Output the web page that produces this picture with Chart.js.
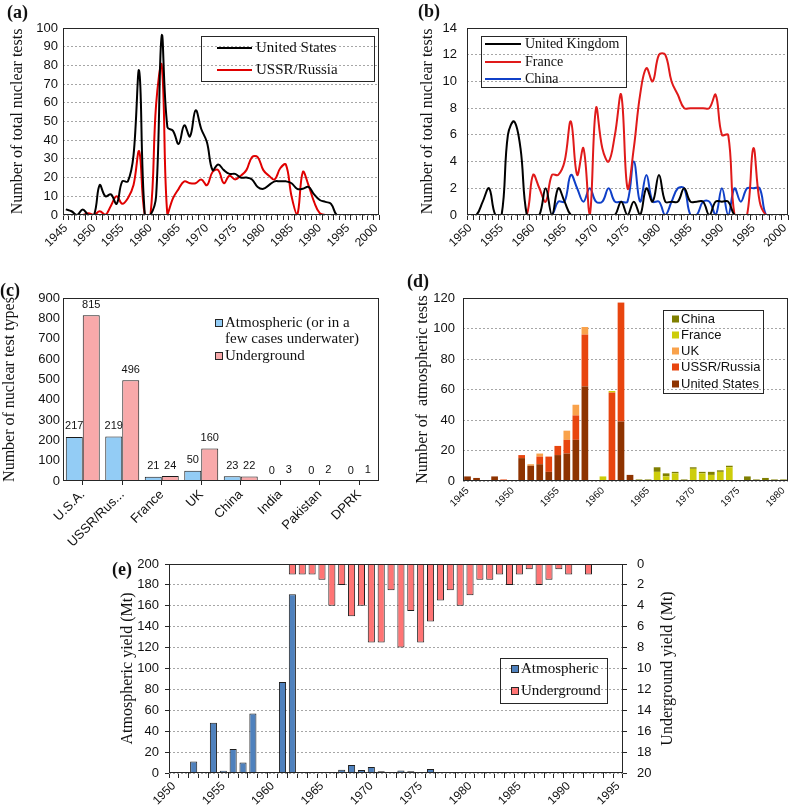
<!DOCTYPE html>
<html><head><meta charset="utf-8">
<script src="https://cdn.jsdelivr.net/npm/chart.js@4.4.1/dist/chart.umd.min.js"></script>
<style>
html,body{margin:0;padding:0;background:#fff;}
body{width:791px;height:809px;position:relative;overflow:hidden;}
canvas{position:absolute;}
</style></head><body>
<canvas id="cE" width="791" height="309" style="left:0;top:500px;z-index:1"></canvas>
<canvas id="cA" width="395" height="260" style="left:0;top:0;z-index:2"></canvas>
<canvas id="cB" width="396" height="260" style="left:395px;top:0;z-index:2"></canvas>
<canvas id="cC" width="395" height="300" style="left:0;top:260px;z-index:3"></canvas>
<canvas id="cD" width="396" height="262" style="left:395px;top:260px;z-index:3"></canvas>
<script>
// ---------------- DATA ----------------
// (a) total tests per year, US and USSR/Russia
const yearsA = [1945,1946,1947,1948,1949,1950,1951,1952,1953,1954,1955,1956,1957,1958,1959,1960,1961,1962,1963,1964,1965,1966,1967,1968,1969,1970,1971,1972,1973,1974,1975,1976,1977,1978,1979,1980,1981,1982,1983,1984,1985,1986,1987,1988,1989,1990,1991,1992,1993,1994,1995,1996,1997,1998,1999,2000];
const usTotal = [3,2,0,3,0,0,16,10,11,6, 18,18,32,77,0,0,10,96,47,45, 38,48,42,56,46,39,24,27,24,22, 22,20,20,19,15,14,16,18,18,18, 17,14,14,15,11,8,7,6,0,0, 0,0,0,0,0,0];
const ussrTotal = [0,0,0,0,1,0,2,0,5,10, 6,9,16,34,0,0,59,80,0,9, 14,18,17,17,19,16,23,24,17,21, 19,21,24,31,31,24,21,19,25,27, 10,0,23,16,7,1,0,0,0,0, 0,0,0,0,0,0];

// (b) total tests per year, UK, France, China
const yearsB = [1950,1951,1952,1953,1954,1955,1956,1957,1958,1959,1960,1961,1962,1963,1964,1965,1966,1967,1968,1969,1970,1971,1972,1973,1974,1975,1976,1977,1978,1979,1980,1981,1982,1983,1984,1985,1986,1987,1988,1989,1990,1991,1992,1993,1994,1995,1996,1997,1998,1999,2000];
const ukTotal = [0,0,1,2,0,0,6,7,5,0, 0,0,2,0,2,1,0,0,0,0, 0,0,0,0,1,0,1,0,2,1, 3,1,1,1,2,1,1,1,0,1, 1,1,0,0,0,0,0,0,0,0, 0];
const franceTotal = [0,0,0,0,0,0,0,0,0,0, 3,2,1,3,3,4,7,3,5,0, 8,5,4,6,9,2,5,9,11,10, 12,12,10,9,8,8,8,8,8,9, 6,6,0,0,0,5,1,0,0,0, 0];
const chinaTotal = [0,0,0,0,0,0,0,0,0,0, 0,0,0,0,1,1,3,2,1,2, 1,1,2,1,1,1,4,1,3,1, 1,0,1,2,2,0,0,1,1,0, 2,0,2,1,2,2,2,0,0,0, 0];

// (c) test types per country
const countriesC = ['U.S.A.','USSR/Rus...','France','UK','China','India','Pakistan','DPRK'];
const atmosphericC = [217,219,21,50,23,0,0,0];
const undergroundC = [815,496,24,160,22,3,2,1];

// (d) atmospheric tests per year (stacked)
const yearsD = [1945,1946,1947,1948,1949,1950,1951,1952,1953,1954,1955,1956,1957,1958,1959,1960,1961,1962,1963,1964,1965,1966,1967,1968,1969,1970,1971,1972,1973,1974,1975,1976,1977,1978,1979,1980];
const usAtm     = [3,2,0,3,0,0,15,10,11,6,17,18,27,62,0,0,0,39,4,0,0,0,0,0,0,0,0,0,0,0,0,0,0,0,0,0];
const ussrAtm   = [0,0,0,0,1,0,2,0,5,10,6,9,16,34,0,0,58,78,0,0,0,0,0,0,0,0,0,0,0,0,0,0,0,0,0,0];
const ukAtm     = [0,0,0,0,0,0,0,1,2,0,0,6,7,5,0,0,0,0,0,0,0,0,0,0,0,0,0,0,0,0,0,0,0,0,0,0];
const franceAtm = [0,0,0,0,0,0,0,0,0,0,0,0,0,0,0,3,1,0,0,0,0,6,3,5,0,8,5,4,6,9,0,0,0,0,0,0];
const chinaAtm  = [0,0,0,0,0,0,0,0,0,0,0,0,0,0,0,0,0,0,0,1,1,3,2,1,1,1,1,2,1,1,0,3,1,2,1,1];

// (e) yields per year (Mt)
const yearsE = [1950,1951,1952,1953,1954,1955,1956,1957,1958,1959,1960,1961,1962,1963,1964,1965,1966,1967,1968,1969,1970,1971,1972,1973,1974,1975,1976,1977,1978,1979,1980,1981,1982,1983,1984,1985,1986,1987,1988,1989,1990,1991,1992,1993,1994,1995];
const atmYield = [null,0.8,11,1,48,2.2,23,10,57,null, null,87,171,null,null,null,1,3.2,7.7,2.9, 5.7,1.6,null,2.5,1.6,null,3.8,null,null,null, 0.6,null,null,null,null,null,null,null,null,null, null,null,null,null,null,null];
const ugYield = [null,null,null,null,null,null,null,null,null,null, null,null,1,1,1,1.5,4,2,5,4, 7.5,7.5,2.5,8,4.5,7.5,5.5,3.5,2.5,4, 3,1.5,1.5,1,2,1,0.5,2,1.5,0.5, 1,null,1,null,null,null];

// ---------------- HELPERS ----------------
const SERIF = '"Liberation Serif","Times New Roman",serif';
const SANS = '"Liberation Sans",Arial,sans-serif';
const INK = '#111';
const FRAME = '#262626';

function fixW(w){ return s => { s.width = w; s.paddingLeft = 0; s.paddingRight = 0; s.paddingTop = 0; s.paddingBottom = 0; }; }
function fixH(h){ return s => { s.height = h; s.paddingLeft = 0; s.paddingRight = 0; s.paddingTop = 0; s.paddingBottom = 0; }; }

function xYears(labels, o) {
  return {
    type: 'category', offset: true,
    grid: { display: o.ticks !== false, offset: o.gridOffset !== false, drawOnChartArea: false,
            drawTicks: o.ticks !== false, tickLength: o.tickLen || 5, tickColor: FRAME, color: FRAME },
    border: { display: false },
    ticks: { autoSkip: false, minRotation: 45, maxRotation: 45, padding: o.pad ?? 1, color: INK,
             font: { family: SANS, size: o.font || 12 },
             callback: (v, i) => (o.every ? (labels[i] % o.every === 0 ? String(labels[i]) : '') : String(labels[i])) },
    afterFit: fixH(o.h)
  };
}

function wrapText(ctx, text, maxW) {
  const words = text.split(' '); const lines = []; let cur = '';
  words.forEach(w => {
    const t = cur ? cur + ' ' + w : w;
    if (ctx.measureText(t).width > maxW && cur) { lines.push(cur); cur = w; } else cur = t;
  });
  if (cur) lines.push(cur);
  return lines;
}

const decor = {
  id: 'decor',
  afterDatasetsDraw(chart, args, o) {
    if (!o.dataLabels) return;
    const ctx = chart.ctx;
    ctx.save();
    ctx.font = '11px ' + SANS; ctx.fillStyle = INK; ctx.textAlign = 'center'; ctx.textBaseline = 'bottom';
    chart.data.datasets.forEach((ds, di) => {
      const meta = chart.getDatasetMeta(di);
      meta.data.forEach((el, i) => { ctx.fillText(String(ds.data[i]), el.x, el.y - 5); });
    });
    ctx.restore();
  },
  afterDraw(chart, args, o) {
    const ctx = chart.ctx; const a = chart.chartArea;
    ctx.save();
    if (o.frame) {
      ctx.strokeStyle = FRAME; ctx.lineWidth = 1;
      ctx.strokeRect(Math.round(a.left) + 0.5, Math.round(a.top) + 0.5, Math.round(a.right - a.left) - 1, Math.round(a.bottom - a.top) - 1);
    }
    if (o.tag) {
      ctx.font = 'bold 18px ' + SERIF; ctx.fillStyle = INK; ctx.textAlign = 'left'; ctx.textBaseline = 'middle';
      ctx.fillText(o.tag[0], o.tag[1], o.tag[2]);
    }
    if (o.sideTitle) {
      const t = o.sideTitle;
      ctx.translate(t.x, t.y); ctx.rotate(-Math.PI / 2);
      ctx.font = '16px ' + SERIF; ctx.fillStyle = INK; ctx.textAlign = 'center'; ctx.textBaseline = 'middle';
      ctx.fillText(t.text, 0, 0);
      ctx.setTransform(1, 0, 0, 1, 0, 0);
    }
    const L = o.legend;
    if (L) {
      if (L.box) { ctx.strokeStyle = FRAME; ctx.lineWidth = 1; ctx.strokeRect(L.box[0] + 0.5, L.box[1] + 0.5, L.box[2], L.box[3]); }
      ctx.font = L.font; ctx.textBaseline = 'middle'; ctx.textAlign = 'left';
      L.order.forEach((di, k) => {
        const ds = chart.data.datasets[di];
        const y = L.rows[k];
        if (L.type === 'line') {
          ctx.strokeStyle = ds.borderColor; ctx.lineWidth = 2;
          ctx.beginPath(); ctx.moveTo(L.mx, y); ctx.lineTo(L.mx + L.mw, y); ctx.stroke();
        } else {
          ctx.fillStyle = ds.backgroundColor; ctx.fillRect(L.mx, y - L.ms / 2, L.ms, L.ms);
          if (L.mBorder) { ctx.strokeStyle = FRAME; ctx.lineWidth = 1; ctx.strokeRect(L.mx + 0.5, y - L.ms / 2 + 0.5, L.ms - 1, L.ms - 1); }
        }
        ctx.fillStyle = INK;
        const lines = L.wrap ? wrapText(ctx, ds.label, L.wrap) : [ds.label];
        lines.forEach((t, j) => ctx.fillText(t, L.tx, y + j * (L.lh || 16)));
      });
    }
    ctx.restore();
  }
};

function yAxis(o) {
  return {
    min: o.min, max: o.max, reverse: !!o.reverse, position: o.position || 'left',
    ticks: { stepSize: o.step, padding: o.pad, color: INK, font: { family: SANS, size: o.font || 13 } },
    grid: { display: o.grid !== false || !!o.tickLen, drawOnChartArea: o.grid !== false, color: '#a6a6a6', lineWidth: 1,
            drawTicks: !!o.tickLen, tickLength: o.tickLen || 0, tickColor: FRAME },
    border: { display: false, dash: [2, 2] },
    title: o.title ? { display: true, text: o.title, color: INK, font: { family: SERIF, size: 16 }, padding: { top: o.titlePad, bottom: 0 } } : { display: false },
    afterFit: fixW(o.w)
  };
}

const base = { responsive: false, animation: false, devicePixelRatio: 1, events: [] };
const noLegend = { legend: { display: false }, tooltip: { enabled: false } };

// ---------------- (a) ----------------
new Chart(document.getElementById('cA'), {
  type: 'line',
  data: { labels: yearsA, datasets: [
    { label: 'United States', data: usTotal, borderColor: '#000000', borderWidth: 2, pointRadius: 0, tension: 0.4, fill: false },
    { label: 'USSR/Russia', data: ussrTotal, borderColor: '#e00000', borderWidth: 2, pointRadius: 0, tension: 0.4, fill: false }
  ]},
  options: Object.assign({}, base, {
    layout: { padding: { top: 28, right: 16, left: 0, bottom: 0 }, autoPadding: false },
    plugins: Object.assign({}, noLegend, { decor: {
      frame: true, tag: ['(a)', 7, 13],
      legend: { box: [201, 36, 173, 45], type: 'line', order: [0, 1], rows: [48, 70], mx: 217, mw: 35, tx: 256, font: '15px ' + SERIF }
    }}),
    scales: {
      x: xYears(yearsA, { h: 45, every: 5, tickLen: 5, font: 12, pad: 1 }),
      y: yAxis({ min: 0, max: 100, step: 10, pad: 5, w: 63, title: 'Number of total nuclear tests', titlePad: 8.4 })
    }
  }),
  plugins: [decor]
});

// ---------------- (b) ----------------
new Chart(document.getElementById('cB'), {
  type: 'line',
  data: { labels: yearsB, datasets: [
    { label: 'United Kingdom', data: ukTotal, borderColor: '#000000', borderWidth: 2, pointRadius: 0, tension: 0.4, fill: false },
    { label: 'France', data: franceTotal, borderColor: '#e01a1a', borderWidth: 2, pointRadius: 0, tension: 0.4, fill: false },
    { label: 'China', data: chinaTotal, borderColor: '#1040c8', borderWidth: 2, pointRadius: 0, tension: 0.4, fill: false }
  ]},
  options: Object.assign({}, base, {
    layout: { padding: { top: 28, right: 3, left: 0, bottom: 0 }, autoPadding: false },
    plugins: Object.assign({}, noLegend, { decor: {
      frame: true, tag: ['(b)', 23, 12],
      legend: { box: [86, 36, 145, 51], type: 'line', order: [0, 1, 2], rows: [44, 62, 79], mx: 90, mw: 36, tx: 130, font: '14px ' + SERIF }
    }}),
    scales: {
      x: xYears(yearsB, { h: 45, every: 5, tickLen: 5, font: 12, pad: 1 }),
      y: yAxis({ min: 0, max: 14, step: 2, pad: 10, w: 72, title: 'Number of total nuclear tests', titlePad: 23.4 })
    }
  }),
  plugins: [decor]
});

// ---------------- (c) ----------------
new Chart(document.getElementById('cC'), {
  type: 'bar',
  data: { labels: countriesC, datasets: [
    { label: 'Atmospheric (or in a few cases underwater)', data: atmosphericC, backgroundColor: '#93ccf5', borderColor: '#1a1a1a', borderWidth: 1, categoryPercentage: 0.86, barPercentage: 1.0 },
    { label: 'Underground', data: undergroundC, backgroundColor: '#f8a9aa', borderColor: '#1a1a1a', borderWidth: 1, categoryPercentage: 0.86, barPercentage: 1.0 }
  ]},
  options: Object.assign({}, base, {
    layout: { padding: { top: 38, right: 16, left: 0, bottom: 0 }, autoPadding: false },
    plugins: Object.assign({}, noLegend, { decor: {
      frame: true, tag: ['(c)', 0, 31], dataLabels: true,
      legend: { box: null, type: 'box', order: [0, 1], rows: [63, 96], mx: 215, ms: 8, mBorder: true, tx: 225, font: '15px ' + SERIF, wrap: 135, lh: 16 }
    }}),
    scales: {
      x: xYears(countriesC, { h: 79, tickLen: 4, font: 13, pad: 2, gridOffset: false }),
      y: yAxis({ min: 0, max: 900, step: 100, pad: 3, w: 63, grid: false, title: 'Number of nuclear test types', titlePad: 0 })
    }
  }),
  plugins: [decor]
});

// ---------------- (d) ----------------
const dBar = { categoryPercentage: 0.74, barPercentage: 1.0, borderWidth: 0, stack: 's' };
new Chart(document.getElementById('cD'), {
  type: 'bar',
  data: { labels: yearsD, datasets: [
    Object.assign({ label: 'United States', data: usAtm, backgroundColor: '#8e3300' }, dBar),
    Object.assign({ label: 'USSR/Russia', data: ussrAtm, backgroundColor: '#e8450f' }, dBar),
    Object.assign({ label: 'UK', data: ukAtm, backgroundColor: '#f9a24b' }, dBar),
    Object.assign({ label: 'France', data: franceAtm, backgroundColor: '#cdcd0a' }, dBar),
    Object.assign({ label: 'China', data: chinaAtm, backgroundColor: '#7f7f00' }, dBar)
  ]},
  options: Object.assign({}, base, {
    layout: { padding: { top: 38, right: 3, left: 0, bottom: 0 }, autoPadding: false },
    plugins: Object.assign({}, noLegend, { decor: {
      frame: true, tag: ['(d)', 12, 22],
      legend: { box: [268, 50, 100, 83], type: 'box', order: [4, 3, 2, 1, 0], rows: [59, 75, 91, 107, 124], mx: 277, ms: 7, mBorder: false, tx: 286, font: '13px ' + SANS }
    }}),
    scales: {
      x: Object.assign(xYears(yearsD, { h: 41, every: 5, ticks: false, font: 10, pad: 4 }), { stacked: true }),
      y: Object.assign(yAxis({ min: 0, max: 120, step: 20, pad: 8, w: 68, title: 'Number of  atmospheric tests', titlePad: 18.4 }), { stacked: true })
    }
  }),
  plugins: [decor]
});

// ---------------- (e) ----------------
new Chart(document.getElementById('cE'), {
  type: 'bar',
  data: { labels: yearsE, datasets: [
    { label: 'Atmospheric', data: atmYield, yAxisID: 'y', backgroundColor: '#4f81bd', borderColor: '#1f1f1f', borderWidth: 1, grouped: false, categoryPercentage: 0.72, barPercentage: 1.0 },
    { label: 'Underground', data: ugYield, yAxisID: 'y2', backgroundColor: '#ff7474', borderColor: '#1f1f1f', borderWidth: 1, grouped: false, categoryPercentage: 0.72, barPercentage: 1.0 }
  ]},
  options: Object.assign({}, base, {
    layout: { padding: { top: 64, right: 91, left: 0, bottom: 0 }, autoPadding: false },
    plugins: Object.assign({}, noLegend, { decor: {
      frame: true, tag: ['(e)', 112, 70],
      sideTitle: { text: 'Underground yield (Mt)', x: 668, y: 168.5 },
      legend: { box: [500, 158, 107, 45], type: 'box', order: [0, 1], rows: [169, 191], mx: 511, ms: 8, mBorder: true, tx: 521, font: '15px ' + SERIF }
    }}),
    scales: {
      x: xYears(yearsE, { h: 36, every: 5, tickLen: 5, font: 12, pad: 1 }),
      y: yAxis({ min: 0, max: 200, step: 20, pad: 6, w: 169, tickLen: 4, title: 'Atmospheric yield (Mt)', titlePad: 118.4 }),
      y2: yAxis({ min: 0, max: 20, step: 2, pad: 10, w: 77, tickLen: 4, grid: false, reverse: true, position: 'right' })
    }
  }),
  plugins: [decor]
});
</script>
</body></html>
